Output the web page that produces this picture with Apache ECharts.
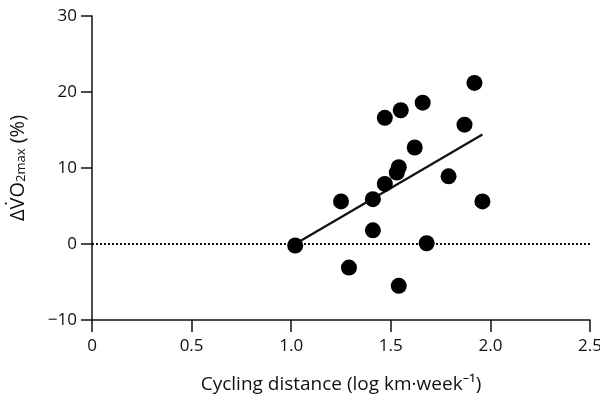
<!DOCTYPE html>
<html lang="en">
<head>
  <meta charset="UTF-8">
  <title>VO2max vs cycling distance</title>
  <script src="https://cdn.jsdelivr.net/npm/echarts@6.0.0/dist/echarts.min.js"></script>
  <style>
    html, body { margin: 0; padding: 0; background: #fff; }
    #chart { width: 600px; height: 396px; }
  </style>
</head>
<body>
  <div id="chart"></div>
  <script>
    // cycling distance (log km/week) and change in VO2max (%)
    const distance = [1.02, 1.25, 1.29, 1.41, 1.41, 1.47, 1.47, 1.54, 1.53, 1.55, 1.54, 1.62, 1.66, 1.68, 1.79, 1.87, 1.92, 1.96]
    const deltaVO2 = [-0.2, 5.6, -3.1, 5.9, 1.8, 16.6, 7.9, 10.1, 9.4, 17.6, -5.5, 12.7, 18.6, 0.1, 8.9, 15.7, 21.2, 5.6]
    // fitted line end points
    const fitX = [1.02, 1.96]
    const fitY = [0.0, 14.4]
    const zeroX = [0, 2.5]
    const xTicks = [0, 0.5, 1.0, 1.5, 2.0, 2.5]
    const yTicks = [-10, 0, 10, 20, 30]

    const font = '"Open Sans", "Noto Sans", sans-serif'
    const chart = echarts.init(document.getElementById('chart'))
    chart.setOption({
      animation: false,
      grid: { left: 92, right: 10, top: 16, bottom: 76, outerBoundsMode: 'none' },
      xAxis: {
        type: 'value',
        min: 0,
        max: 2.5,
        interval: 0.5,
        name: 'Cycling distance (log km·week⁻¹)',
        nameLocation: 'middle',
        nameGap: 55,
        nameTextStyle: { color: '#111', fontSize: 19, fontFamily: font },
        axisLine: { onZero: false, lineStyle: { color: '#111', width: 1.5 } },
        axisTick: { length: 12, lineStyle: { color: '#111', width: 1.5 } },
        axisLabel: {
          color: '#111', fontSize: 17, fontFamily: font, margin: 18,
          formatter: v => xTicks.includes(v) ? (v === 0 ? '0' : v.toFixed(1)) : ''
        },
        splitLine: { show: false }
      },
      yAxis: {
        type: 'value',
        min: -10,
        max: 30,
        interval: 10,
        name: '{a|ΔV̇O}{s|2max}{a| (%)}',
        nameLocation: 'middle',
        nameGap: 64,
        nameTextStyle: {
          rich: {
            a: { color: '#111', fontSize: 20, fontFamily: font },
            s: { color: '#111', fontSize: 13, fontFamily: font, verticalAlign: 'bottom', padding: [7, 0, 0, 0] }
          }
        },
        axisLine: { show: true, onZero: false, lineStyle: { color: '#111', width: 1.5 } },
        axisTick: { show: true, length: 11, lineStyle: { color: '#111', width: 1.5 } },
        axisLabel: {
          color: '#111', fontSize: 17, fontFamily: font, margin: 15,
          formatter: v => yTicks.includes(v) ? String(v).replace('-', '−') : ''
        },
        splitLine: { show: false }
      },
      series: [
        {
          type: 'line',
          data: zeroX.map(x => [x, 0]),
          symbol: 'none',
          lineStyle: { color: '#111', width: 2, type: [2, 2] },
          z: 1
        },
        {
          type: 'line',
          data: fitX.map((x, i) => [x, fitY[i]]),
          symbol: 'none',
          lineStyle: { color: '#111', width: 2.2 },
          z: 2
        },
        {
          type: 'scatter',
          data: distance.map((x, i) => [x, deltaVO2[i]]),
          symbolSize: 16,
          itemStyle: { color: '#000', opacity: 1 },
          z: 3
        }
      ]
    })
  </script>
</body>
</html>
